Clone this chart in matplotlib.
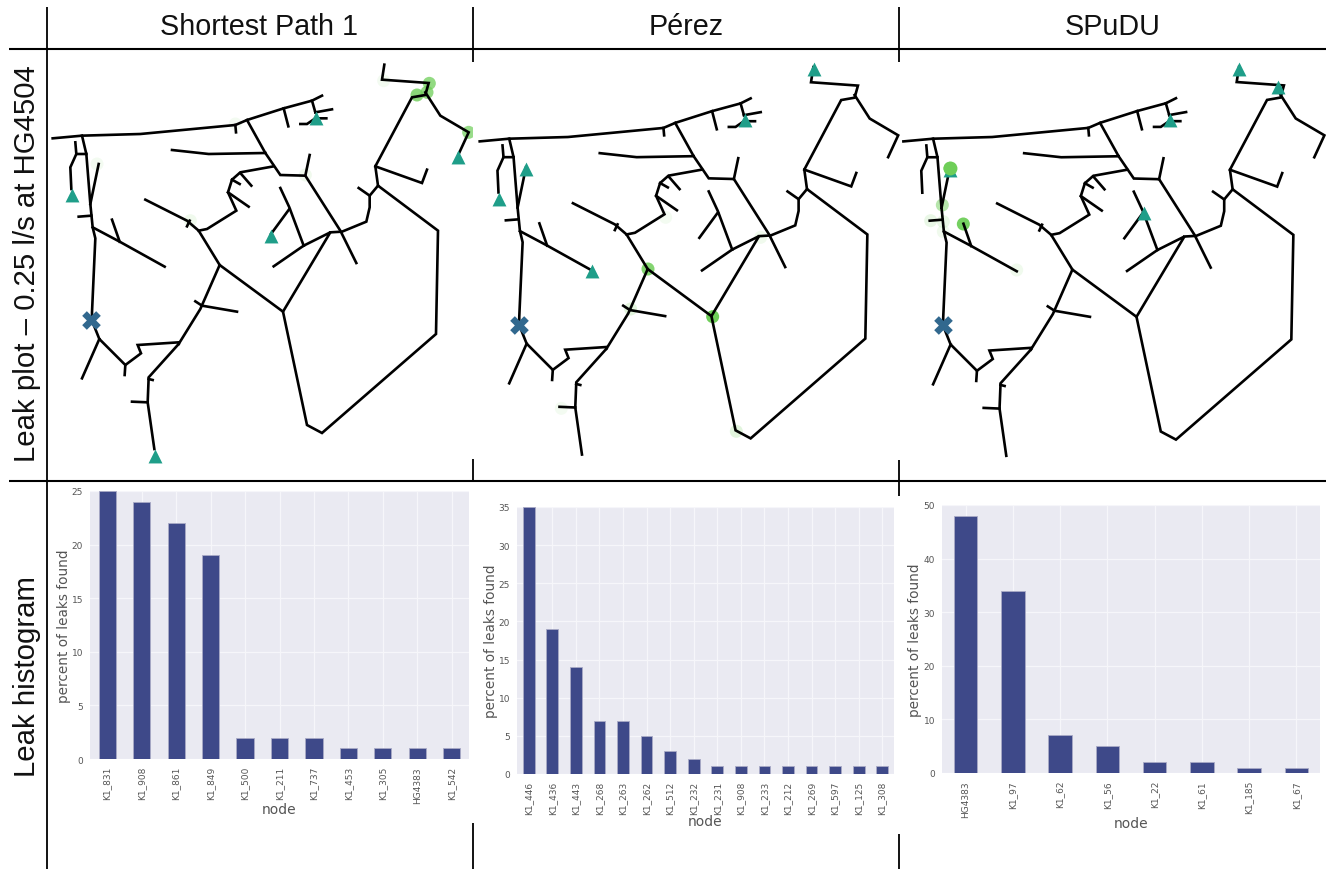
"""Leak plots on a pipe network with the leak histograms below, in a 3 x 2 table."""
import matplotlib
matplotlib.use("Agg")  # save plots to file instead of opening a window
import matplotlib.pyplot as plt

W, H = 1332, 870

titles = ["Shortest Path 1", "Pérez", "SPuDU"]
row_labels = ["Leak plot – 0.25 l/s at HG4504", "Leak histogram"]

# Pipe network, one list of (x, y) per polyline.
pipes = [
    [(17, 268), (105, 260), (280, 255), (565, 228), (600, 213), (710, 178), (795, 155), (825, 140)],
    [(565, 228), (567, 250)],
    [(710, 178), (724, 232)],
    [(795, 155), (805, 190)],
    [(805, 190), (855, 181)],
    [(760, 225), (780, 225), (805, 208), (838, 208)],
    [(105, 260), (118, 315), (130, 465), (137, 535), (145, 568), (135, 790), (135, 815), (157, 870),
     (235, 948), (282, 913), (272, 888), (395, 880)],
    [(118, 315), (88, 315), (85, 280)],
    [(88, 315), (70, 355), (73, 420)],
    [(130, 465), (155, 345)],
    [(95, 503), (133, 500)],
    [(137, 535), (218, 578), (353, 653)],
    [(218, 578), (195, 512)],
    [(157, 870), (105, 988)],
    [(235, 948), (233, 978)],
    [(395, 885), (460, 780), (518, 648), (455, 545), (420, 515), (295, 452)],
    [(420, 532), (428, 515)],
    [(445, 757), (465, 770), (570, 788)],
    [(395, 885), (305, 985), (302, 1060), (322, 1200)],
    [(305, 990), (317, 993)],
    [(255, 1058), (302, 1060)],
    [(518, 648), (708, 788), (850, 550), (770, 590), (680, 652)],
    [(708, 788), (780, 1128), (825, 1152), (1167, 855), (1173, 545), (993, 410), (985, 352),
     (1095, 145), (1135, 138), (1145, 102), (1005, 92), (1012, 47)],
    [(1135, 130), (1180, 200), (1265, 250), (1235, 315)],
    [(985, 352), (1125, 402), (1140, 362)],
    [(993, 410), (968, 440), (935, 417)],
    [(968, 440), (968, 475), (958, 518), (885, 548), (850, 550)],
    [(600, 213), (655, 312), (700, 378), (775, 380), (880, 545), (928, 642)],
    [(775, 380), (788, 318)],
    [(375, 303), (485, 315), (655, 312)],
    [(680, 352), (580, 370), (555, 392), (543, 430), (568, 485), (480, 540), (455, 545)],
    [(580, 372), (613, 410)],
    [(555, 392), (578, 405)],
    [(543, 430), (605, 473)],
    [(700, 417), (727, 475), (770, 590)],
    [(727, 480), (672, 555)],
]

# Each map panel holds the same network slightly shifted: x scale, x shift, y scale, y shift.
net_shift = [(1.0, 0, 1.0, 0), (1.006, 0, 1.008, 7), (1.012, -7, 1.012, 6)]

sensors = [
    [(75, 438), (673, 561), (808, 206), (1233, 323), (325, 1220)],
    [(75, 449), (155, 360), (812, 214), (1020, 60), (355, 666)],
    [(1018, 60), (1135, 115), (810, 214), (732, 491), (150, 362)],
]
true_leak = [(133, 813), (135, 827), (128, 828)]
# Found leaks: x, y, opacity.
leaks = [
    [(1147, 103, .75), (1110, 138, .8), (1140, 130, .75), (1265, 250, .7), (1010, 95, .08),
     (150, 345, .08), (430, 515, .1), (775, 378, .1), (565, 225, .08)],
    [(522, 660, .85), (716, 803, 1.0), (470, 780, .2), (787, 1147, .2), (262, 1078, .08),
     (575, 505, .08), (860, 565, .1)],
    [(150, 358, 1.0), (190, 525, .95), (127, 468, .5), (92, 515, .15), (130, 518, .15),
     (130, 548, .1), (350, 663, .1)],
]

hist_nodes = [
    ["K1_831", "K1_908", "K1_861", "K1_849", "K1_500", "K1_211", "K1_737", "K1_453", "K1_305",
     "HG4383", "K1_542"],
    ["K1_446", "K1_436", "K1_443", "K1_268", "K1_263", "K1_262", "K1_512", "K1_232", "K1_231",
     "K1_908", "K1_233", "K1_212", "K1_269", "K1_597", "K1_125", "K1_308"],
    ["HG4383", "K1_97", "K1_62", "K1_56", "K1_22", "K1_61", "K1_185", "K1_67"],
]
hist_values = [
    [25, 24, 22, 19, 2, 2, 2, 1, 1, 1, 1],
    [35, 19, 14, 7, 7, 5, 3, 2, 1, 1, 1, 1, 1, 1, 1, 1],
    [48, 34, 7, 5, 2, 2, 1, 1],
]
hist_ymax = [25, 35, 50]
hist_yticks = [range(0, 30, 5), range(0, 40, 5), range(0, 60, 10)]

# Pixel boxes (left, top, right, bottom).
map_boxes = [(47, 50, 473, 480), (474, 50, 900, 480), (900, 50, 1326, 480)]
hist_boxes = [(90, 492, 469, 760), (517, 508, 894, 775), (942, 506, 1320, 774)]
hist_xlabel_y = [810, 822, 824]
hist_ylabel_x = [64, 491, 915]

# Table rules: x or y, start, end, in pixels.
h_rules = [(49.5, 9, 1326), (481.5, 9, 1326)]
v_rules = [(47, 8, 870), (473, 8, 63), (473, 460, 482), (473, 824, 870),
           (899, 8, 63), (899, 461, 497), (899, 835, 870)]

GREEN = "#6ece58"
TEAL = "#1f9e89"
BLUE = "#31688e"
BAR = "#3e4989"
GREY = "#555555"


def box_axes(fig, box):
    left, top, right, bottom = box
    return fig.add_axes([left / W, 1 - bottom / H, (right - left) / W, (bottom - top) / H])


def draw_map(ax, i):
    sx, dx, sy, dy = net_shift[i]
    ax.scatter([p[0] for p in leaks[i]], [p[1] for p in leaks[i]], s=88, c=GREEN,
               alpha=[p[2] for p in leaks[i]], linewidths=0, zorder=1)
    for pipe in pipes:
        ax.plot([x * sx + dx for x, _ in pipe], [y * sy + dy for _, y in pipe],
                color="black", lw=1.9, solid_joinstyle="miter", zorder=2)
    ax.scatter(*zip(*sensors[i]), s=100, marker="^", c=TEAL, linewidths=0, zorder=3)
    if i == 2:  # the strongest leak sits on top of a sensor here
        ax.scatter([150], [358], s=100, c=GREEN, linewidths=0, zorder=4)
    ax.scatter(*true_leak[i], s=180, marker="X", c=BLUE, linewidths=0, zorder=5)
    ax.set_xlim(0, 1278)
    ax.set_ylim(1290, 0)
    ax.axis("off")


def draw_hist(ax, i):
    nodes = hist_nodes[i]
    ax.set_facecolor("#eaeaf2")
    ax.grid(True, color="#f6f6fa", lw=0.9)
    ax.set_axisbelow(True)
    ax.bar(range(len(nodes)), hist_values[i], width=0.5, color=BAR,
           edgecolor="#a9aac6", linewidth=0.6)
    ax.set_xlim(-0.5, len(nodes) - 0.5)
    ax.set_ylim(0, hist_ymax[i])
    ax.set_xticks(range(len(nodes)), nodes, rotation=90)
    ax.set_yticks(list(hist_yticks[i]))
    ax.tick_params(length=0, labelsize=6.5, labelcolor=GREY, pad=5)
    for side in ax.spines.values():
        side.set_visible(False)


fig = plt.figure(figsize=(W / 100, H / 100), dpi=100)

for i in range(3):
    draw_map(box_axes(fig, map_boxes[i]), i)
    draw_hist(box_axes(fig, hist_boxes[i]), i)

# Overlay in pixel units for the table rules and the free text.
page = fig.add_axes([0, 0, 1, 1], zorder=10)
page.set_xlim(0, W)
page.set_ylim(H, 0)
page.axis("off")
for y, x0, x1 in h_rules:
    page.plot([x0, x1], [y, y], color="black", lw=1.5, solid_capstyle="butt")
for x, y0, y1 in v_rules:
    page.plot([x, x], [y0, y1], color="black", lw=1.3, solid_capstyle="butt")

sans = "Liberation Sans"
for title, x in zip(titles, [259, 686, 1113]):
    page.text(x, 27, title, ha="center", va="center", fontsize=20.7, family=sans, color="#111111")
page.text(27, 264, row_labels[0], rotation=90, ha="center", va="center", fontsize=21.2, family=sans,
          color="#111111")
page.text(27, 677, row_labels[1], rotation=90, ha="center", va="center", fontsize=21.2, family=sans,
          color="#111111")

for i in range(3):
    left, top, right, bottom = hist_boxes[i]
    page.text((left + right) / 2, hist_xlabel_y[i], "node", ha="center", va="center",
              fontsize=10, color=GREY)
    page.text(hist_ylabel_x[i], (top + bottom) / 2, "percent of leaks found", rotation=90,
              ha="center", va="center", fontsize=9.8, color=GREY)

fig.savefig("out.png", dpi=100)
